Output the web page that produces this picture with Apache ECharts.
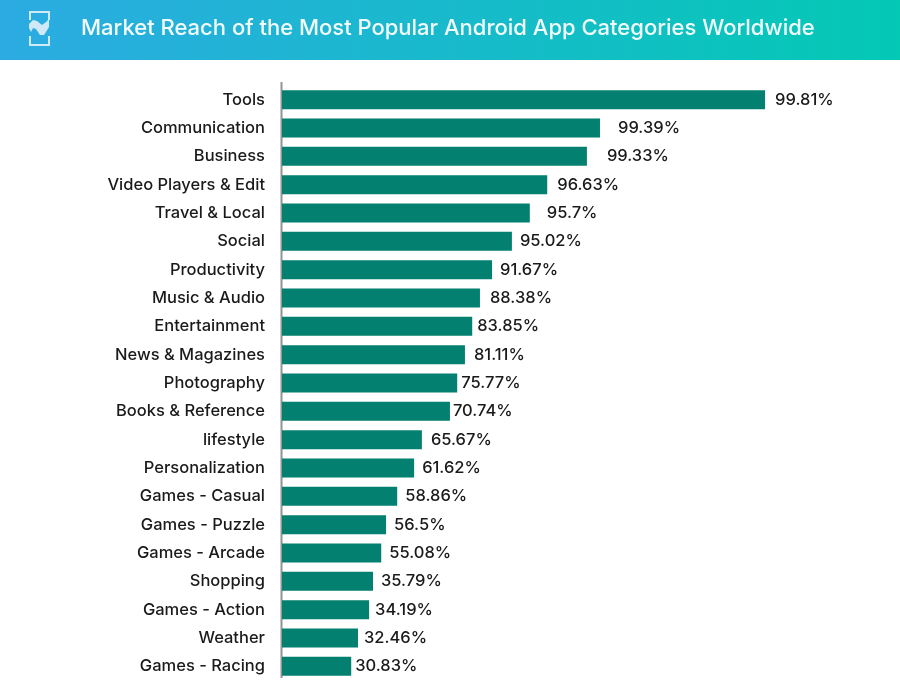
<!DOCTYPE html>
<html lang="en">

<head>
    <meta charset="UTF-8">
    <title>Market Reach of Android App Categories</title>
    <style>
        * {
            margin: 0;
            padding: 0;
        }

        html,
        body,
        #chart {
            width: 900px;
            height: 700px;
            overflow: hidden;
            background: #fff;
        }
    </style>
</head>

<body>
    <div id="chart"></div>
    <script src="https://cdn.jsdelivr.net/npm/echarts@6/dist/echarts.min.js"></script>
    <script>
        let categories = ['Tools', 'Communication', 'Business', 'Video Players & Edit', 'Travel & Local', 'Social',
            'Productivity', 'Music & Audio', 'Entertainment', 'News & Magazines', 'Photography', 'Books & Reference',
            'lifestyle', 'Personalization', 'Games - Casual', 'Games - Puzzle', 'Games - Arcade', 'Shopping',
            'Games - Action', 'Weather', 'Games - Racing'];
        // the percentages printed next to the bars
        let printedReach = [99.81, 99.39, 99.33, 96.63, 95.7, 95.02, 91.67, 88.38, 83.85, 81.11, 75.77, 70.74,
            65.67, 61.62, 58.86, 56.5, 55.08, 35.79, 34.19, 32.46, 30.83];
        // the bars in the picture are not drawn to those percentages, so their lengths are read separately
        let drawnLength = [99.81, 65.7, 63.0, 54.8, 51.2, 47.5, 43.4, 40.9, 39.3, 37.8, 36.2, 34.7,
            28.9, 27.3, 23.8, 21.5, 20.5, 18.8, 18.0, 15.7, 14.3];
        let labelGaps = [10, 18, 20, 10, 17, 8, 8, 10, 5, 9, 4, 3, 9, 8, 8, 8, 8, 8, 6, 6, 4];

        let fontName = 'Inter';
        let chart = echarts.init(document.getElementById('chart'));

        let option = {
            animation: false,
            grid: {
                left: 282,
                top: 85.5,
                width: 484,
                height: 595
            },
            xAxis: {
                type: 'value',
                min: 0,
                max: 100,
                show: false
            },
            yAxis: {
                type: 'category',
                inverse: true,
                data: categories,
                axisLine: { show: false },
                axisTick: { show: false },
                axisLabel: {
                    margin: 17,
                    fontFamily: fontName,
                    fontSize: 16.5,
                    fontWeight: 500,
                    color: '#1a1a1a'
                }
            },
            series: [{
                type: 'bar',
                barWidth: 19,
                itemStyle: { color: '#03806f' },
                data: drawnLength.map(function(v, i) {
                    return {
                        value: v,
                        label: {
                            show: true,
                            position: 'right',
                            distance: labelGaps[i],
                            fontFamily: fontName,
                            fontSize: 16.5,
                            fontWeight: 500,
                            color: '#1a1a1a',
                            formatter: printedReach[i] + '%'
                        }
                    };
                })
            }],
            graphic: [{
                // header band
                type: 'rect',
                shape: { x: 0, y: 0, width: 900, height: 60 },
                style: {
                    fill: new echarts.graphic.LinearGradient(0, 0, 1, 0, [
                        { offset: 0, color: '#2cabe2' },
                        { offset: 1, color: '#04c9b5' }
                    ])
                }
            }, {
                type: 'text',
                x: 81,
                y: 17,
                style: {
                    text: 'Market Reach of the Most Popular Android App Categories Worldwide',
                    fontFamily: fontName,
                    fontSize: 22,
                    fontWeight: 500,
                    fill: '#f2fbfc'
                }
            }, {
                // logo
                type: 'polyline',
                shape: { points: [[30, 20], [30, 12], [49, 12], [49, 20]] },
                style: { fill: null, stroke: '#cfeaf6', lineWidth: 2 }
            }, {
                type: 'polyline',
                shape: { points: [[30, 36], [30, 45], [49, 45], [49, 36]] },
                style: { fill: null, stroke: '#cfeaf6', lineWidth: 2 }
            }, {
                type: 'polygon',
                shape: { points: [[29, 24], [33, 20], [37, 21], [42, 25], [46, 22], [49, 19], [49, 27], [46, 32], [44, 35], [40, 35], [36, 29], [33, 28], [31, 32], [29, 28]] },
                style: { fill: '#cfeaf6' }
            }, {
                // vertical axis line
                type: 'line',
                shape: { x1: 281.5, y1: 82, x2: 281.5, y2: 678 },
                style: { stroke: '#8f9494', lineWidth: 2 }
            }]
        };

        chart.setOption(option);
    </script>
</body>

</html>
